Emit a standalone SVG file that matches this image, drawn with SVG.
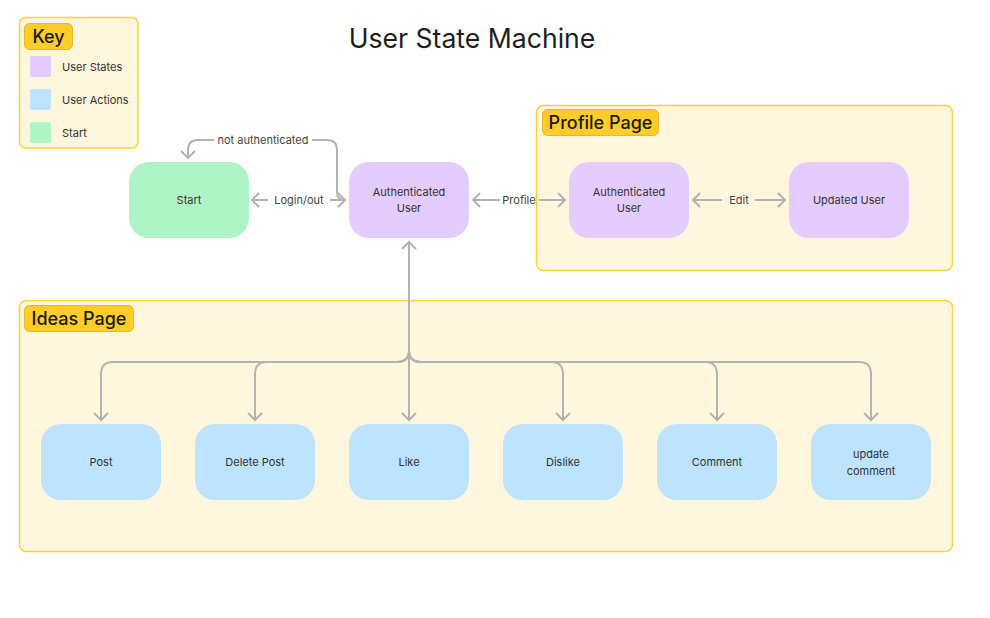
<svg xmlns="http://www.w3.org/2000/svg" width="990" height="618" viewBox="0 0 990 618">
<style>
text{font-family:Inter,"Noto Sans","Liberation Sans",sans-serif;}
.section{fill:#fff6de;stroke:#fdd33c;stroke-width:1.5}
.tag{fill:#ffcd29;stroke:#e8b627;stroke-width:1}
.tagt{font-size:18px;fill:#1a1a1a;font-weight:500}
.state{fill:#e4ccff}
.action{fill:#bde3ff}
.start{fill:#aff4c6}
.nt{font-size:11px;fill:#333;text-anchor:middle}
.kt{font-size:11px;fill:#333}
.lt{font-size:11px;fill:#444;text-anchor:middle}
.c{fill:none;stroke:#b3b3b3;stroke-width:2}
</style>
<defs>
<marker id="ah" markerWidth="20" markerHeight="20" refX="10" refY="10" orient="auto-start-reverse" markerUnits="userSpaceOnUse">
<path d="M3,3 L10,10 L3,17" fill="none" stroke="#b3b3b3" stroke-width="2"/>
</marker>
</defs>
<rect width="990" height="618" fill="#ffffff"/>
<text x="472" y="48" font-size="26.6" fill="#1e1e1e" text-anchor="middle">User State Machine</text>

<g id="key">
<rect class="section" x="19.5" y="17.5" width="118.5" height="130.5" rx="6"/>
<rect class="tag" x="24.5" y="23.5" width="48" height="26" rx="5"/>
<text class="tagt" x="48.5" y="43" text-anchor="middle">Key</text>
<rect class="state" x="30" y="56" width="21" height="21" rx="2"/>
<text class="kt" x="62" y="71">User States</text>
<rect class="action" x="30" y="89" width="21" height="21" rx="2"/>
<text class="kt" x="62" y="104">User Actions</text>
<rect class="start" x="30" y="122" width="21" height="21" rx="2"/>
<text class="kt" x="62" y="137">Start</text>
</g>

<g id="profile-page">
<rect class="section" x="536.5" y="105.5" width="416" height="165" rx="7"/>
<rect class="tag" x="542.5" y="109.5" width="116" height="26" rx="5"/>
<text class="tagt" x="600.5" y="129" text-anchor="middle">Profile Page</text>
</g>

<g id="ideas-page">
<rect class="section" x="19.5" y="300.5" width="933" height="251" rx="7"/>
<rect class="tag" x="24.5" y="305.5" width="109" height="26" rx="5"/>
<text class="tagt" x="79" y="325" text-anchor="middle">Ideas Page</text>
</g>

<g id="connectors">
<line class="c" x1="252" y1="200" x2="268" y2="200" marker-start="url(#ah)"/>
<line class="c" x1="330" y1="200" x2="345" y2="200" marker-end="url(#ah)"/>
<text class="lt" x="299" y="204">Login/out</text>
<path class="c" d="M345,200 Q337,200 337,192 L337,150 Q337,140 327,140 L312,140"/>
<path class="c" d="M214,140 L198,140 Q188,140 188,150 L188,158" marker-end="url(#ah)"/>
<text class="lt" x="263" y="144">not authenticated</text>
<line class="c" x1="473" y1="200" x2="500" y2="200" marker-start="url(#ah)"/>
<line class="c" x1="539" y1="200" x2="565" y2="200" marker-end="url(#ah)"/>
<text class="lt" x="519" y="204">Profile</text>
<line class="c" x1="693" y1="200" x2="722" y2="200" marker-start="url(#ah)"/>
<line class="c" x1="755" y1="200" x2="785" y2="200" marker-end="url(#ah)"/>
<text class="lt" x="739" y="204">Edit</text>
<path class="c" d="M409,242 L409,350" marker-start="url(#ah)"/>
<path class="c" d="M409,350 Q409,362 397,362 L113,362 Q101,362 101,374 L101,420" marker-end="url(#ah)"/>
<path class="c" d="M409,350 Q409,362 397,362 L267,362 Q255,362 255,374 L255,420" marker-end="url(#ah)"/>
<path class="c" d="M409,350 L409,420" marker-end="url(#ah)"/>
<path class="c" d="M409,350 Q409,362 421,362 L551,362 Q563,362 563,374 L563,420" marker-end="url(#ah)"/>
<path class="c" d="M409,350 Q409,362 421,362 L705,362 Q717,362 717,374 L717,420" marker-end="url(#ah)"/>
<path class="c" d="M409,350 Q409,362 421,362 L859,362 Q871,362 871,374 L871,420" marker-end="url(#ah)"/>
</g>

<g id="start"><rect class="start" x="129" y="162" width="120" height="76" rx="20"/><text class="nt" x="189" y="204">Start</text></g>
<g id="authenticated-user"><rect class="state" x="349" y="162" width="120" height="76" rx="20"/><text class="nt" x="409" y="196">Authenticated</text><text class="nt" x="409" y="212">User</text></g>
<g id="profile-authenticated-user"><rect class="state" x="569" y="162" width="120" height="76" rx="20"/><text class="nt" x="629" y="196">Authenticated</text><text class="nt" x="629" y="212">User</text></g>
<g id="updated-user"><rect class="state" x="789" y="162" width="120" height="76" rx="20"/><text class="nt" x="849" y="204">Updated User</text></g>

<g id="post"><rect class="action" x="41" y="424" width="120" height="76" rx="20"/><text class="nt" x="101" y="466">Post</text></g>
<g id="delete-post"><rect class="action" x="195" y="424" width="120" height="76" rx="20"/><text class="nt" x="255" y="466">Delete Post</text></g>
<g id="like"><rect class="action" x="349" y="424" width="120" height="76" rx="20"/><text class="nt" x="409" y="466">Like</text></g>
<g id="dislike"><rect class="action" x="503" y="424" width="120" height="76" rx="20"/><text class="nt" x="563" y="466">Dislike</text></g>
<g id="comment"><rect class="action" x="657" y="424" width="120" height="76" rx="20"/><text class="nt" x="717" y="466">Comment</text></g>
<g id="update-comment"><rect class="action" x="811" y="424" width="120" height="76" rx="20"/><text class="nt" x="871" y="458">update</text><text class="nt" x="871" y="475">comment</text></g>
</svg>
